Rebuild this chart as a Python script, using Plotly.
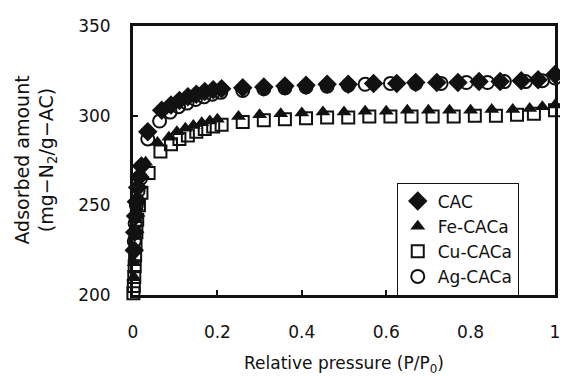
import plotly.graph_objects as go

# ---------------- data ----------------
cac_x = [0.003, 0.004, 0.006, 0.008, 0.011, 0.015, 0.02, 0.035, 0.068, 0.09, 0.11, 0.13, 0.15, 0.17, 0.19, 0.21,
         0.26, 0.31, 0.36, 0.41, 0.46, 0.51, 0.57, 0.625, 0.67, 0.72, 0.77, 0.82, 0.87, 0.92, 0.96, 1.0]
cac_y = [225, 235, 244, 252, 260, 266, 272, 291, 303, 306, 308.5, 310.5, 312, 313.5, 314.5, 315,
         315.5, 316, 316.5, 317, 317.5, 317.5, 318, 318, 318.5, 318.5, 318.5, 319, 319, 319.5, 320, 323]

fe_x = [0.002, 0.003, 0.004, 0.005, 0.007, 0.009, 0.012, 0.016, 0.022, 0.03, 0.058, 0.085, 0.104, 0.124, 0.143,
        0.163, 0.182, 0.2, 0.25, 0.3, 0.35, 0.4, 0.45, 0.5, 0.55, 0.6, 0.65, 0.7, 0.75, 0.8, 0.85, 0.9, 0.94,
        0.97, 1.0]
fe_y = [210, 218, 226, 234, 242, 249, 255, 261, 267, 274, 285, 288, 291, 293, 294.5,
        296, 297, 298, 299.5, 300.5, 301, 301.5, 302, 302, 302.5, 302.5, 303, 303, 303, 303, 303.5, 303.5, 304,
        305, 306]

cu_x = [0.001, 0.002, 0.003, 0.004, 0.005, 0.006, 0.008, 0.01, 0.014, 0.02, 0.037, 0.065, 0.09, 0.11, 0.13,
        0.15, 0.17, 0.19, 0.21, 0.26, 0.31, 0.36, 0.41, 0.46, 0.51, 0.56, 0.61, 0.66, 0.71, 0.76, 0.81, 0.86,
        0.91, 0.95, 1.0]
cu_y = [201, 205, 210, 216, 222, 228, 235, 242, 250, 257, 268, 280, 284, 287, 289,
        291, 292.5, 294, 295, 296.5, 297.5, 298, 298.5, 299, 299, 299.5, 299.5, 299.5, 299.5, 299.5, 300, 300,
        300.5, 301, 303]

ag_x = [0.003, 0.005, 0.008, 0.012, 0.018, 0.035, 0.063, 0.088, 0.108, 0.128, 0.148, 0.168, 0.188, 0.208,
        0.26, 0.31, 0.36, 0.41, 0.46, 0.51, 0.55, 0.61, 0.67, 0.73, 0.79, 0.84, 0.88, 0.93, 0.97, 1.0]
ag_y = [230, 240, 250, 258, 265, 287, 297, 302, 305, 307, 309, 310.5, 312, 313,
        314, 315, 315.5, 316, 316.5, 317, 317.5, 318, 318, 318, 318.5, 318.5, 319, 319, 319.5, 321]

x_ticks = [0, 0.2, 0.4, 0.6, 0.8, 1]
x_tick_labels = ["0", "0.2", "0.4", "0.6", "0.8", "1"]
y_ticks = [200, 250, 300, 350]
y_tick_labels = ["200", "250", "300", "350"]

FONT = "DejaVu Sans"
INK = "#111111"

fig = go.Figure()

fig.add_trace(go.Scatter(
    x=cu_x, y=cu_y, mode="markers", name="Cu-CACa", legendrank=3, cliponaxis=False,
    marker=dict(symbol="square-open", size=12, color=INK, line=dict(width=2, color=INK))))
fig.add_trace(go.Scatter(
    x=ag_x, y=ag_y, mode="markers", name="Ag-CACa", legendrank=4, cliponaxis=False,
    marker=dict(symbol="circle-open", size=13, color=INK, line=dict(width=2, color=INK))))
fig.add_trace(go.Scatter(
    x=fe_x, y=fe_y, mode="markers", name="Fe-CACa", legendrank=2, cliponaxis=False,
    marker=dict(symbol="triangle-up", size=13, color=INK)))
fig.add_trace(go.Scatter(
    x=cac_x, y=cac_y, mode="markers", name="CAC", legendrank=1, cliponaxis=False,
    marker=dict(symbol="diamond", size=15, color=INK)))

# the page body adds an 8 px offset, so the figure is sized/margined accordingly
fig.update_layout(
    width=560, height=376,
    margin=dict(l=125, r=8, t=9, b=89),
    paper_bgcolor="white", plot_bgcolor="white",
    font=dict(family=FONT, size=16, color=INK),
    showlegend=True,
    legend=dict(
        x=0.625, y=0.418, xanchor="left", yanchor="top",
        bgcolor="white", bordercolor=INK, borderwidth=1,
        font=dict(family=FONT, size=17, color=INK),
        itemwidth=30, tracegroupgap=0,
    ),
    xaxis=dict(
        range=[0, 1], tickmode="array", tickvals=x_ticks, ticktext=x_tick_labels,
        ticks="inside", ticklen=5, tickwidth=2, tickcolor=INK,
        showline=True, linewidth=3, linecolor=INK, mirror=True,
        showgrid=False, zeroline=False, ticklabelstandoff=20,
        ticklabeloverflow="allow",
        tickfont=dict(family=FONT, size=17, color=INK),
    ),
    yaxis=dict(
        range=[200, 350], tickmode="array", tickvals=y_ticks, ticktext=y_tick_labels,
        ticks="inside", ticklen=5, tickwidth=2, tickcolor=INK,
        showline=True, linewidth=3, linecolor=INK, mirror=True,
        showgrid=False, zeroline=False, ticklabelstandoff=16,
        ticklabeloverflow="allow",
        tickfont=dict(family=FONT, size=17, color=INK),
    ),
    annotations=[
        dict(text="Relative pressure (P/P<sub>0</sub>)", xref="paper", yref="paper",
             x=0.5, y=-0.26, xanchor="center", yanchor="middle", showarrow=False,
             font=dict(family=FONT, size=17, color=INK)),
        dict(text="Adsorbed amount<br>(mg\u2212N<sub>2</sub>/g\u2212AC)", xref="paper", yref="paper",
             x=-0.232, y=0.5, xanchor="center", yanchor="middle", showarrow=False, textangle=-90,
             font=dict(family=FONT, size=19, color=INK)),
    ],
)

fig.write_html("out.html")
